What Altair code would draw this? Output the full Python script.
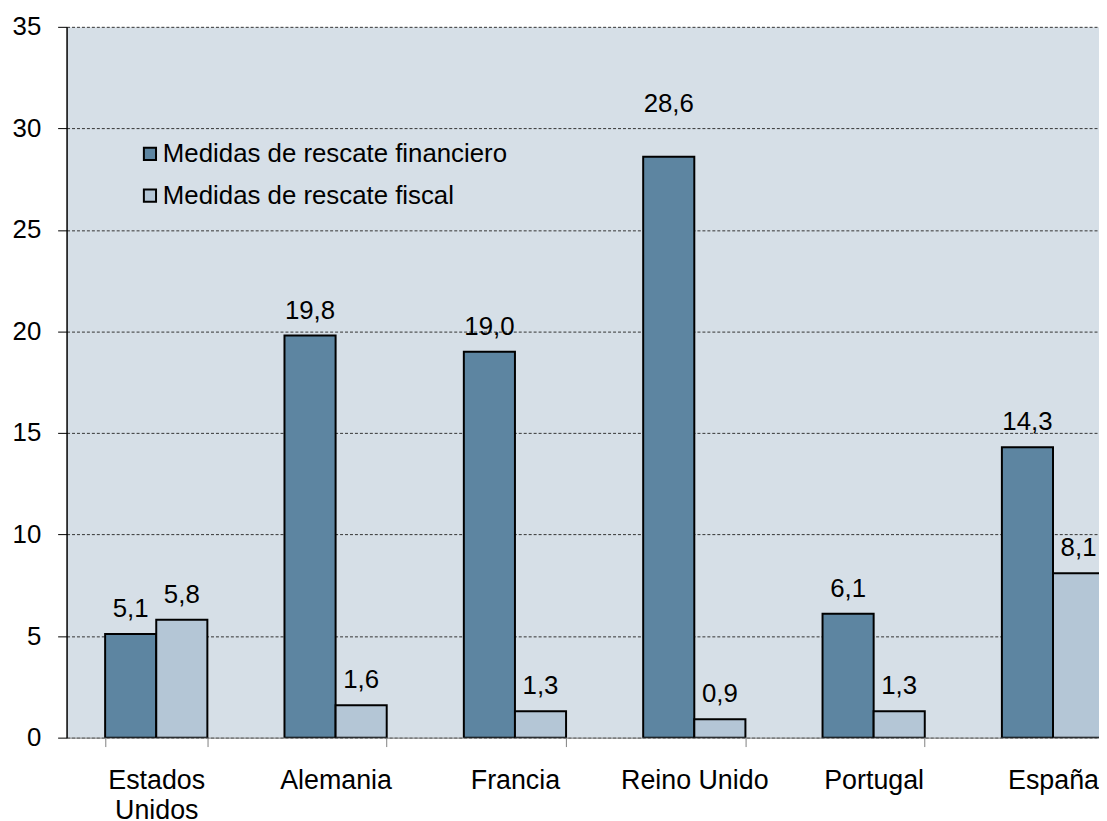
import altair as alt
import pandas as pd

countries = ["Estados Unidos", "Alemania", "Francia", "Reino Unido", "Portugal", "España"]
series = ["Medidas de rescate financiero", "Medidas de rescate fiscal"]
financiero = [5.1, 19.8, 19.0, 28.6, 6.1, 14.3]
fiscal = [5.8, 1.6, 1.3, 0.9, 1.3, 8.1]
y_ticks = [0, 5, 10, 15, 20, 25, 30, 35]
colors = ["#5d85a1", "#b4c6d6"]

rows = []
for c, f, s in zip(countries, financiero, fiscal):
    rows.append({"pais": c, "serie": series[0], "valor": f})
    rows.append({"pais": c, "serie": series[1], "valor": s})
df = pd.DataFrame(rows)
df["etiqueta"] = df["valor"].map(lambda v: f"{v:.1f}".replace(".", ","))

PLOT_W = 1040
PLOT_H = 716
X_RANGE = 1084  # six full category bands; the last one is cut by the page edge

x = alt.X(
    "pais:N",
    sort=countries,
    scale=alt.Scale(range=[0, X_RANGE], paddingInner=0.43, paddingOuter=0.215),
    axis=alt.Axis(
        title=None, labelAngle=0, labelFontSize=27, labelPadding=21,
        labelLineHeight=30, labelLimit=400, labelBaseline="top",
        labelExpr="datum.value == 'Estados Unidos' ? split(datum.value, ' ') : datum.value",
        domainColor="#808080", domainWidth=1, tickColor="#808080", tickSize=9,
        tickBand="extent", grid=False, labelColor="black",
    ),
)
xo = alt.XOffset("serie:N", sort=series, scale=alt.Scale(domain=series))
y = alt.Y(
    "valor:Q",
    scale=alt.Scale(domain=[0, 35], nice=False),
    axis=alt.Axis(
        values=y_ticks, title=None, labelFontSize=26, labelPadding=17,
        tickSize=9, tickColor="black", domainColor="black", domainWidth=1.5,
        grid=True, gridColor="#333333", gridDash=[3, 2], gridWidth=1,
        labelColor="black",
    ),
)

base = alt.Chart(df)

bars = base.mark_bar(stroke="black", strokeWidth=2, clip=True).encode(
    x=x, xOffset=xo, y=y,
    color=alt.Color(
        "serie:N",
        scale=alt.Scale(domain=series, range=colors),
        legend=alt.Legend(
            title=None, orient="none", legendX=71, legendY=115,
            symbolType="square", symbolSize=150, symbolStrokeColor="black",
            symbolStrokeWidth=2, symbolOpacity=1, labelFontSize=26, labelLimit=600,
            rowPadding=16, labelOffset=0, padding=0, labelColor="black",
        ),
    ),
)

labels = base.transform_filter("datum.valor < 25").mark_text(
    baseline="alphabetic", dy=-17, fontSize=26, clip=True, color="black"
).encode(x=x, xOffset=xo, y=y, text="etiqueta:N")

labels_high = base.transform_filter("datum.valor >= 25").mark_text(
    baseline="alphabetic", dy=-45, fontSize=26, clip=True, color="black"
).encode(x=x, xOffset=xo, y=y, text="etiqueta:N")

chart = (
    alt.layer(bars, labels, labels_high)
    .properties(
        width=PLOT_W, height=PLOT_H,
        autosize=alt.AutoSizeParams(type="none"),
        padding={"left": 59, "top": 16, "right": 0, "bottom": 81},
    )
    .configure(font="Liberation Sans")
    .configure_view(fill="#d6dfe7", stroke="transparent")
)

chart.save("out.html", embed_options={"renderer": "svg", "actions": False})
